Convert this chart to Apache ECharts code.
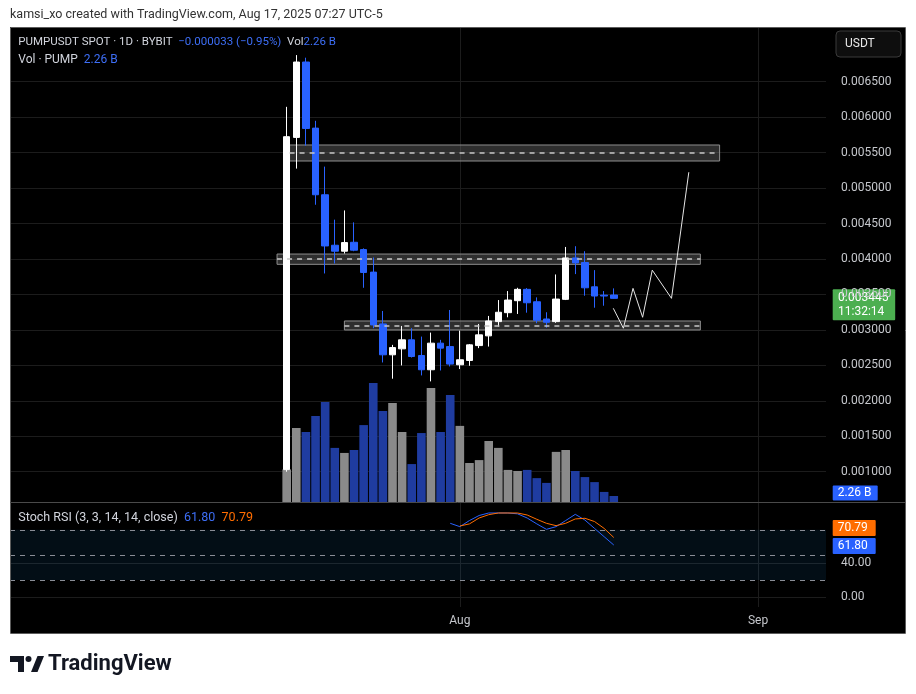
<!DOCTYPE html>
<html><head><meta charset="utf-8">
<script src="https://cdn.jsdelivr.net/npm/echarts@6/dist/echarts.min.js"></script>
<style>html,body{margin:0;padding:0;background:#fff}#c{width:916px;height:694px}</style>
</head><body><div id="c"></div>
<script>
// ---------------- data ----------------
const dates = ['Jul 14','Jul 15','Jul 16','Jul 17','Jul 18','Jul 19','Jul 20','Jul 21','Jul 22','Jul 23','Jul 24','Jul 25','Jul 26','Jul 27','Jul 28','Jul 29','Jul 30','Jul 31',
  'Aug 1','Aug 2','Aug 3','Aug 4','Aug 5','Aug 6','Aug 7','Aug 8','Aug 9','Aug 10','Aug 11','Aug 12','Aug 13','Aug 14','Aug 15','Aug 16','Aug 17'];
const opens  = [0.001030,0.005715,0.006778,0.005846,0.004906,0.004194,0.004110,0.004236,0.004133,0.003815,0.003084,0.002649,0.002733,0.002860,0.002639,0.002438,0.002813,0.002765,
  0.002508,0.002569,0.002779,0.002916,0.003117,0.003243,0.003412,0.003572,0.003397,0.003154,0.003117,0.003431,0.004015,0.003951,0.003608,0.003490,0.003492];
const closes = [0.005725,0.006778,0.005841,0.004906,0.004184,0.004110,0.004232,0.004124,0.003810,0.003070,0.002649,0.002751,0.002860,0.002625,0.002438,0.002813,0.002743,0.002518,
  0.002579,0.002789,0.002930,0.003126,0.003249,0.003421,0.003572,0.003383,0.003136,0.003108,0.003435,0.004015,0.003945,0.003594,0.003478,0.003478,0.003445];
const lows   = [0.001000,0.005275,0.005598,0.004765,0.003796,0.003937,0.004077,0.004110,0.003594,0.003024,0.002541,0.002312,0.002499,0.002610,0.002358,0.002274,0.002428,0.002485,
  0.002448,0.002494,0.002743,0.002765,0.003046,0.003178,0.003225,0.003243,0.003094,0.003032,0.003100,0.003421,0.003787,0.003482,0.003313,0.003341,0.003440];
const highs  = [0.006146,0.006876,0.006839,0.005949,0.005303,0.004555,0.004685,0.004517,0.004150,0.004021,0.003267,0.002789,0.003056,0.003024,0.002906,0.002962,0.002860,0.003281,
  0.002990,0.002800,0.003084,0.003197,0.003421,0.003548,0.003594,0.003590,0.003459,0.003249,0.003782,0.004170,0.004180,0.004110,0.003843,0.003548,0.003586];
const volumesB = [12.3,27.9,26.4,32.4,37.7,20.4,18.5,19.6,29.0,44.9,34.3,37.3,26.4,14.3,26.0,43.0,26.4,40.3,
  28.7,14.7,15.8,23.0,20.4,12.1,11.7,12.1,9.0,7.2,18.9,19.6,11.7,9.4,7.5,3.8,2.26];
const stochKStartDay = 17;
const stochK = [87.7,83.7,91,97,100,100,100,99,94,87,80.5,83.7,91,98.4,91.6,81.6,71.7,61.80];
const stochDStartDay = 18;
const stochD = [84.5,87,94,98,100,100,100,97.6,92.5,87.7,84.9,87.7,92.9,93.7,89.8,81.6,70.79];
// drawn projection path (day offset from Jul 14, price)
const projDays   = [33.95,35,36,37,38,40,41.8];
const projPrices = [0.003305,0.003024,0.003586,0.003178,0.003843,0.003445,0.005224];
// drawn zones (day offsets, price bounds)
const zoneStart = [0.3,-1,6];
const zoneEnd   = [45,43,43];
const zoneLow   = [0.005382,0.003925,0.002999];
const zoneHigh  = [0.005608,0.004070,0.003126];
// ticks
const priceTicks = [0.001,0.0015,0.002,0.0025,0.003,0.0035,0.004,0.0045,0.005,0.0055,0.006,0.0065];
const stochTicks = [0,40];
const stochLevels = [80,50,20];
const monthTickDays = [18,49];
const monthTickLabels = ['Aug','Sep'];
const lastVolText = '2.26 B';
const changeText = '−0.000033 (−0.95%)';
const countdown = '11:32:14';

// ---------------- layout ----------------
const X_MIN = -28.76, X_MAX = 56.06;
const P_MIN = 0.000573, P_MAX = 0.007272;
const VOL_MAX = 179.1;
const S_MIN = -12.17, S_MAX = 111.93;
const FONT = 'Roboto, "Noto Sans", sans-serif';
const BLUE = '#2962ff', ORANGE = '#ff6d00', GREEN = '#4caf50';
const TXT_BLUE = '#3d6ef5';
const AXIS_TXT = '#c5c7cc';

const chart = echarts.init(document.getElementById('c'), null, {renderer:'canvas', width:916, height:694});
const last = closes.length - 1;

const hiddenX = (gi, showLabels) => ({
  type:'value', gridIndex:gi, min:X_MIN, max:X_MAX,
  axisLine:{show:false},
  axisTick:{show:false, customValues:monthTickDays},
  axisLabel:{show:showLabels, customValues:monthTickDays, color:AXIS_TXT, fontSize:12, fontFamily:FONT, margin:8,
    formatter:v=>monthTickLabels[monthTickDays.indexOf(Math.round(v))] || ''},
  splitLine:{show:true, lineStyle:{color:'#1c1c1c', width:1}}
});

const option = {
  backgroundColor:'#ffffff',
  animation:false,
  textStyle:{fontFamily:FONT},
  grid:[
    {left:10, top:27, width:816, height:475},
    {left:10, top:503, width:816, height:104}
  ],
  xAxis:[hiddenX(0,false), hiddenX(1,true)],
  yAxis:[
    {type:'value', gridIndex:0, position:'right', min:P_MIN, max:P_MAX,
      axisLine:{show:false}, axisTick:{show:false, customValues:priceTicks},
      axisLabel:{customValues:priceTicks, formatter:v=>v.toFixed(6), color:AXIS_TXT, fontSize:12, fontFamily:FONT, margin:15},
      splitLine:{show:true, lineStyle:{color:'#1c1c1c', width:1}}},
    {type:'value', gridIndex:0, min:0, max:VOL_MAX, show:false, splitLine:{show:false}},
    {type:'value', gridIndex:1, position:'right', min:S_MIN, max:S_MAX,
      axisLine:{show:false}, axisTick:{show:false, customValues:stochTicks},
      axisLabel:{customValues:stochTicks, formatter:v=>v.toFixed(2), color:AXIS_TXT, fontSize:12, fontFamily:FONT, margin:15},
      splitLine:{show:true, lineStyle:{color:'#1c1c1c', width:1}}}
  ],
  series:[
    { // drawn zones
      type:'line', xAxisIndex:0, yAxisIndex:0, data:[], z:1, silent:true,
      markArea:{silent:true, itemStyle:{color:'rgba(110,110,110,0.42)', borderColor:'#8e8e8e', borderWidth:1},
        data: zoneStart.map((s,i)=>[{coord:[s, zoneHigh[i]]},{coord:[zoneEnd[i], zoneLow[i]]}])},
      markLine:{silent:true, symbol:'none', label:{show:false}, lineStyle:{type:[5,5], color:'#c8c8c8', width:1.5},
        data: zoneStart.map((s,i)=>[{coord:[s,(zoneLow[i]+zoneHigh[i])/2]},{coord:[zoneEnd[i],(zoneLow[i]+zoneHigh[i])/2]}])}
    },
    { // volume
      type:'bar', xAxisIndex:0, yAxisIndex:1, barWidth:8.6, z:2, silent:true,
      data: volumesB.map((v,i)=>({value:[i,v], itemStyle:{color: closes[i]>=opens[i] ? '#8a8a8a' : '#1f3ca0'}}))
    },
    { // price
      type:'candlestick', xAxisIndex:0, yAxisIndex:0, z:3, barWidth:7, silent:true,
      encode:{x:0, y:[1,2,3,4]},
      data: dates.map((d,i)=>[i, opens[i], closes[i], lows[i], highs[i]]),
      itemStyle:{color:'#ffffff', color0:BLUE, borderColor:'#ffffff', borderColor0:BLUE, borderWidth:1},
      markLine:{silent:true, symbol:'none', label:{show:false}, lineStyle:{type:[1,3], color:'#a8a8a8', width:1},
        data:[{yAxis:closes[last]}]}
    },
    { // projection
      type:'line', xAxisIndex:0, yAxisIndex:0, z:4, silent:true, symbol:'none',
      lineStyle:{color:'#e6e6e6', width:1},
      data: projDays.map((d,i)=>[d, projPrices[i]])
    },
    { // stoch K
      type:'line', xAxisIndex:1, yAxisIndex:2, z:4, silent:true, symbol:'none',
      lineStyle:{color:BLUE, width:1},
      data: stochK.map((v,i)=>[stochKStartDay+i, v]),
      markArea:{silent:true, itemStyle:{color:'rgba(33,150,243,0.09)'}, data:[[{yAxis:stochLevels[2]},{yAxis:stochLevels[0]}]]},
      markLine:{silent:true, symbol:'none', label:{show:false}, lineStyle:{type:[5,5], color:'#8a8d96', width:1},
        data: stochLevels.map(l=>({yAxis:l}))}
    },
    { // stoch D
      type:'line', xAxisIndex:1, yAxisIndex:2, z:4, silent:true, symbol:'none',
      lineStyle:{color:ORANGE, width:1},
      data: stochD.map((v,i)=>[stochDStartDay+i, v])
    }
  ]
};
chart.setOption(option);

// ---------------- decorations & axis tags ----------------
function tag(x, cy, w, h, text, bg) {
  return {type:'group', z:50, children:[
    {type:'rect', shape:{x:x, y:cy-h/2, width:w, height:h, r:1}, style:{fill:bg}},
    {type:'text', x:x+5, y:cy, style:{text:text, fill:'#fff', font:'12px '+FONT, textVerticalAlign:'middle'}}
  ]};
}
const yPrice = chart.convertToPixel({yAxisIndex:0}, closes[last]);
const yVol = Math.min(chart.convertToPixel({yAxisIndex:1}, volumesB[last]), 502-9);
const yK = chart.convertToPixel({yAxisIndex:2}, stochK[stochK.length-1]) + 1;
const yD = Math.min(chart.convertToPixel({yAxisIndex:2}, stochD[stochD.length-1]), yK - 18);

const txt = (x, y, text, fill, size, weight) => ({type:'text', x:x, y:y, z:60, silent:true,
  style:{text:text, fill:fill, font:(weight||'normal')+' '+(size||12.5)+'px '+FONT, textVerticalAlign:'middle'}});
const rich = (x, y, text, size) => ({type:'text', x:x, y:y, z:60, silent:true,
  style:{text:text, font:size+'px '+FONT, fill:'#d1d4dc', textVerticalAlign:'middle',
    rich:{g:{fill:'#d1d4dc', font:size+'px '+FONT}, b:{fill:TXT_BLUE, font:size+'px '+FONT}, o:{fill:ORANGE, font:size+'px '+FONT}}}});

chart.setOption({graphic:[
  {type:'rect', z:-20, silent:true, shape:{x:10, y:27, width:895, height:606}, style:{fill:'#000000'}},
  {type:'rect', z:70, silent:true, shape:{x:10.5, y:27.5, width:895, height:606}, style:{fill:'none', stroke:'#5c5c5c', lineWidth:1}},
  {type:'line', z:70, silent:true, shape:{x1:10, y1:502.5, x2:905, y2:502.5}, style:{stroke:'#4a4a4a', lineWidth:1}},
  txt(10, 15, 'kamsi_xo created with TradingView.com, Aug 17, 2025 07:27 UTC-5', '#333333', 12.5),
  rich(18.3, 42.5, '{g|PUMPUSDT SPOT · 1D · BYBIT}  {b|' + changeText + '}  {g|Vol}{b|' + lastVolText + '}', 11.5),
  rich(18.3, 59.5, '{g|Vol · PUMP}  {b|' + lastVolText + '}', 12),
  rich(18.3, 518, '{g|Stoch RSI (3, 3, 14, 14, close)}  {b|' + stochK[stochK.length-1].toFixed(2) + '}  {o|' + stochD[stochD.length-1].toFixed(2) + '}', 12.5),
  {type:'rect', z:60, silent:true, shape:{x:836, y:31, width:65, height:26, r:4}, style:{fill:'#0e0e0e', stroke:'#3a3a3a', lineWidth:1}},
  txt(845, 44, 'USDT', '#e8e8e8', 12),
  // price tag with countdown
  {type:'group', z:50, children:[
    {type:'rect', shape:{x:832.7, y:yPrice-9, width:62.5, height:31, r:1}, style:{fill:GREEN}},
    {type:'text', x:838, y:yPrice, style:{text:closes[last].toFixed(6), fill:'#fff', font:'12px '+FONT, textVerticalAlign:'middle'}},
    {type:'text', x:838, y:yPrice+14, style:{text:countdown, fill:'#fff', font:'12px '+FONT, textVerticalAlign:'middle'}}
  ]},
  tag(832.7, yVol, 45, 15, lastVolText, BLUE),
  tag(832.7, yD, 43, 16, stochD[stochD.length-1].toFixed(2), ORANGE),
  tag(832.7, yK, 43, 16, stochK[stochK.length-1].toFixed(2), BLUE),
  // TradingView logo
  {type:'polygon', z:60, silent:true, shape:{points:[[10,656],[24,656],[24,672],[18,672],[18,662],[10,662]]}, style:{fill:'#131722'}},
  {type:'circle', z:60, silent:true, shape:{cx:28.5, cy:659, r:3}, style:{fill:'#131722'}},
  {type:'polygon', z:60, silent:true, shape:{points:[[31,672],[37.5,656],[44,656],[37.5,672]]}, style:{fill:'#131722'}},
  txt(48, 664, 'TradingView', '#131722', 22, 'bold')
]});
</script></body></html>
